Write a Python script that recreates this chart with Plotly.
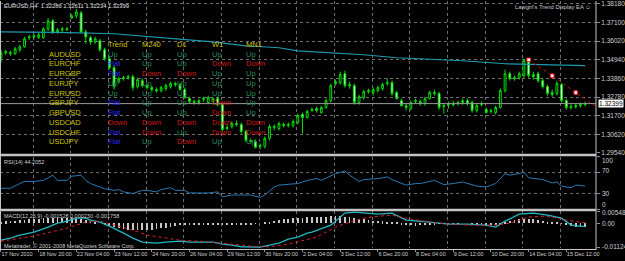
import plotly.graph_objects as go

# ---------------- data ----------------
bar_open = [
1.3506, 1.3535, 1.3529, 1.3529, 1.3552, 1.3569, 1.3622, 1.3627, 1.3622, 1.3622,
1.3673, 1.3720, 1.3656, 1.3668, 1.3668, 1.3737, 1.3749, 1.3766, 1.3656, 1.3622,
1.3598, 1.3604, 1.3552, 1.3500, 1.3448, 1.3367, 1.3385, 1.3390, 1.3396, 1.3338,
1.3373, 1.3344, 1.3333, 1.3321, 1.3315, 1.3327, 1.3338, 1.3356, 1.3350, 1.3321,
1.3269, 1.3252, 1.3246, 1.3263, 1.3246, 1.3252, 1.3269, 1.3234, 1.3095, 1.3107,
1.3124, 1.3119, 1.3078, 1.3026, 1.3020, 1.2992, 1.2992, 1.3038, 1.3101, 1.3095,
1.3119, 1.3113, 1.3113, 1.3130, 1.3176, 1.3159, 1.3205, 1.3211, 1.3188, 1.3217,
1.3257, 1.3356, 1.3361, 1.3413, 1.3350, 1.3344, 1.3246, 1.3275, 1.3309, 1.3304,
1.3315, 1.3327, 1.3356, 1.3361, 1.3304, 1.3257, 1.3228, 1.3211, 1.3252, 1.3252,
1.3240, 1.3269, 1.3298, 1.3298, 1.3223, 1.3234, 1.3240, 1.3240, 1.3246, 1.3257,
1.3246, 1.3200, 1.3234, 1.3205, 1.3194, 1.3188, 1.3217, 1.3315, 1.3413, 1.3390,
1.3390, 1.3402, 1.3489, 1.3408, 1.3413, 1.3373, 1.3338, 1.3304, 1.3298, 1.3350,
1.3257, 1.3217, 1.3223, 1.3228, 1.3234]
bar_high = [
1.3552, 1.3552, 1.3546, 1.3569, 1.3581, 1.3627, 1.3639, 1.3645, 1.3650, 1.3685,
1.3737, 1.3731, 1.3679, 1.3685, 1.3685, 1.3760, 1.3789, 1.3778, 1.3668, 1.3633,
1.3627, 1.3616, 1.3564, 1.3512, 1.3460, 1.3396, 1.3402, 1.3408, 1.3408, 1.3390,
1.3385, 1.3356, 1.3344, 1.3333, 1.3344, 1.3356, 1.3367, 1.3367, 1.3361, 1.3333,
1.3280, 1.3263, 1.3269, 1.3280, 1.3286, 1.3275, 1.3280, 1.3246, 1.3119, 1.3136,
1.3142, 1.3130, 1.3090, 1.3038, 1.3032, 1.3009, 1.3049, 1.3119, 1.3119, 1.3136,
1.3130, 1.3130, 1.3148, 1.3182, 1.3188, 1.3205, 1.3217, 1.3223, 1.3228, 1.3269,
1.3356, 1.3379, 1.3425, 1.3431, 1.3367, 1.3356, 1.3292, 1.3321, 1.3327, 1.3333,
1.3344, 1.3361, 1.3385, 1.3373, 1.3315, 1.3269, 1.3240, 1.3257, 1.3269, 1.3263,
1.3280, 1.3315, 1.3321, 1.3309, 1.3240, 1.3252, 1.3257, 1.3257, 1.3269, 1.3269,
1.3257, 1.3240, 1.3252, 1.3217, 1.3211, 1.3228, 1.3327, 1.3437, 1.3425, 1.3402,
1.3425, 1.3500, 1.3500, 1.3425, 1.3425, 1.3385, 1.3350, 1.3321, 1.3373, 1.3361,
1.3269, 1.3240, 1.3240, 1.3246, 1.3252]
bar_low = [
1.3477, 1.3523, 1.3517, 1.3523, 1.3541, 1.3564, 1.3610, 1.3616, 1.3616, 1.3616,
1.3662, 1.3645, 1.3645, 1.3656, 1.3662, 1.3731, 1.3737, 1.3650, 1.3587, 1.3581,
1.3587, 1.3541, 1.3489, 1.3437, 1.3321, 1.3356, 1.3373, 1.3379, 1.3315, 1.3327,
1.3333, 1.3321, 1.3309, 1.3304, 1.3304, 1.3315, 1.3327, 1.3338, 1.3315, 1.3269,
1.3240, 1.3234, 1.3234, 1.3252, 1.3240, 1.3240, 1.3223, 1.3078, 1.3084, 1.3095,
1.3107, 1.3067, 1.3015, 1.3009, 1.2980, 1.2974, 1.2980, 1.3026, 1.3084, 1.3084,
1.3101, 1.3101, 1.3101, 1.3119, 1.3067, 1.3153, 1.3194, 1.3188, 1.3182, 1.3211,
1.3246, 1.3344, 1.3350, 1.3333, 1.3327, 1.3234, 1.3234, 1.3263, 1.3298, 1.3286,
1.3304, 1.3315, 1.3344, 1.3286, 1.3263, 1.3223, 1.3200, 1.3200, 1.3240, 1.3228,
1.3228, 1.3263, 1.3286, 1.3205, 1.3182, 1.3211, 1.3223, 1.3228, 1.3234, 1.3228,
1.3188, 1.3188, 1.3223, 1.3182, 1.3182, 1.3176, 1.3211, 1.3304, 1.3373, 1.3373,
1.3379, 1.3390, 1.3390, 1.3379, 1.3361, 1.3327, 1.3286, 1.3280, 1.3286, 1.3246,
1.3205, 1.3205, 1.3211, 1.3217, 1.3223]
bar_close = [
1.3535, 1.3541, 1.3535, 1.3558, 1.3569, 1.3616, 1.3627, 1.3633, 1.3639, 1.3673,
1.3720, 1.3650, 1.3668, 1.3673, 1.3673, 1.3749, 1.3772, 1.3656, 1.3627, 1.3598,
1.3616, 1.3552, 1.3500, 1.3448, 1.3338, 1.3385, 1.3390, 1.3396, 1.3333, 1.3379,
1.3344, 1.3333, 1.3321, 1.3315, 1.3333, 1.3344, 1.3356, 1.3350, 1.3321, 1.3275,
1.3252, 1.3246, 1.3257, 1.3269, 1.3275, 1.3269, 1.3234, 1.3090, 1.3101, 1.3124,
1.3119, 1.3078, 1.3026, 1.3020, 1.2986, 1.2997, 1.3038, 1.3107, 1.3107, 1.3124,
1.3113, 1.3119, 1.3136, 1.3171, 1.3159, 1.3194, 1.3200, 1.3200, 1.3217, 1.3257,
1.3344, 1.3367, 1.3408, 1.3344, 1.3344, 1.3246, 1.3280, 1.3309, 1.3315, 1.3321,
1.3333, 1.3350, 1.3361, 1.3298, 1.3269, 1.3228, 1.3217, 1.3246, 1.3257, 1.3240,
1.3269, 1.3304, 1.3304, 1.3217, 1.3228, 1.3240, 1.3234, 1.3246, 1.3257, 1.3240,
1.3200, 1.3228, 1.3240, 1.3188, 1.3200, 1.3217, 1.3315, 1.3413, 1.3385, 1.3385,
1.3413, 1.3489, 1.3402, 1.3396, 1.3373, 1.3338, 1.3298, 1.3292, 1.3356, 1.3257,
1.3217, 1.3223, 1.3228, 1.3234, 1.32399]
n_bars = len(bar_close)
assert len(bar_open) == len(bar_high) == len(bar_low) == n_bars
bars = list(range(n_bars))

# long moving average (cyan)
ma_x = [0, 12, 24, 33, 45, 52, 59, 63, 70, 77, 84, 93, 98, 107, 124]
ma_v = [1.3656, 1.3653, 1.3645, 1.3625, 1.3598, 1.3575, 1.3564, 1.3546, 1.3535,
        1.3523, 1.3506, 1.3494, 1.3489, 1.3471, 1.3460]

# red trend line with points
tl_x = [112, 117, 122, 126.3]
tl_v = [1.3494, 1.3402, 1.3304, 1.3223]

# RSI(14)
rsi_x = [0,2,4,5,7,9,11,12,14,15,17,18,19,20,21,22,24,25,26,28,30,31,33,34,36,37,39,40,42,44,
         46,47,49,51,53,55,56,58,59,61,63,65,67,68,71,73,74,76,77,80,82,83,86,88,89,92,94,96,98,101,
         103,105,107,108,110,111,112,115,117,118,119,121,122,124]
rsi_v = [40,40,49,53,53,55,65,55,55,63,65,55,49,46,42,39,36,37.5,33,30,36,36,33,37.5,41,36,36,31,31,31,
         33,23.5,27,27,27,22.5,27,42.5,46,47.6,49,55,58.5,55,68,73,65,53,56.6,58.5,61.5,56.6,46,49,49,55,47,49,52,44,
         42.5,49,68,65,68,71,60,56.6,50,52,44,41,46,44.2052]

# MACD(12,26,9)
macd_x = [0,2,4,7,10,12,14,16,18,19,21,23,26,28,30,33,35,38,40,43,45,47,49,51,53,55,56,59,61,63,
          65,66,70,73,75,77,80,83,86,91,95,99,103,105,107,110,113,116,119,121,124]
macd_v = [-0.0079,-0.0069,-0.0055,-0.0041,-0.0017,0.0001,0.0011,0.0025,0.0025,0.0016,
          0.0006,-0.0013,-0.0046,-0.0069,-0.0088,-0.0093,-0.0088,-0.0084,-0.0088,-0.0088,
          -0.0088,-0.0098,-0.0102,-0.0110,-0.0110,-0.0112,-0.0107,-0.0093,-0.0074,-0.0065,
          -0.0046,-0.0041,-0.0008,0.0049,0.0053,0.0049,0.0044,0.0049,0.0016,0.0006,
          -0.0003,-0.0003,-0.0008,-0.0017,0.0011,0.0044,0.0049,0.0039,0.0025,-0.0008,-0.001528]
sig_x = [0,7,14,18,21,24,28,31,35,38,42,47,51,54,57,61,63,67,71,74,77,80,83,86,91,95,100,105,108,112,115,117,120,124]
sig_v = [-0.0084,-0.0060,-0.0022,0.0006,0.0011,-0.0008,-0.0032,-0.0055,-0.0069,-0.0079,
         -0.0084,-0.0093,-0.0102,-0.0110,-0.0110,-0.0098,-0.0088,-0.0065,-0.0017,0.0006,
         0.0025,0.0034,0.0039,0.0025,0.0006,-0.0003,-0.0008,-0.0008,0.0001,0.0030,
         0.0034,0.0030,0.0016,0.00023]
osma = [0.0006,0.0009,0.0011,0.0013,0.0015,0.0017,0.0019,0.0020,0.0022,0.0023,
        0.0024,0.0025,0.0025,0.0025,0.0024,0.0023,0.0022,0.0020,0.0017,0.0012,
        0.0006,0.0000,-0.0006,-0.0012,-0.0018,-0.0023,-0.0028,-0.0031,-0.0033,-0.0034,
        -0.0034,-0.0032,-0.0030,-0.0027,-0.0024,-0.0020,-0.0016,-0.0012,-0.0009,-0.0007,
        -0.0005,-0.0004,-0.0004,-0.0004,-0.0004,-0.0004,-0.0005,-0.0006,-0.0007,-0.0008,
        -0.0008,-0.0008,-0.0006,-0.0004,-0.0002,0.0000,0.0003,0.0007,0.0012,0.0016,
        0.0019,0.0022,0.0024,0.0026,0.0027,0.0028,0.0029,0.0030,0.0031,0.0032,
        0.0033,0.0034,0.0034,0.0032,0.0029,0.0026,0.0022,0.0019,0.0016,0.0013,
        0.0010,0.0009,0.0008,0.0007,0.0002,-0.0004,-0.0008,-0.0010,-0.0011,-0.0010,
        -0.0008,-0.0006,-0.0004,-0.0003,-0.0002,-0.0002,-0.0001,-0.0001,0.0000,0.0000,
        -0.0001,-0.0002,-0.0003,-0.0004,-0.0006,-0.0008,-0.0003,0.0005,0.0012,0.0016,
        0.0019,0.0020,0.0020,0.0018,0.0014,0.0010,0.0007,0.0004,0.0002,-0.0002,
        -0.0008,-0.0013,-0.0016,-0.0017,-0.001758]

price_ticks = [1.38180, 1.37100, 1.36020, 1.34940, 1.33860, 1.32780, 1.31700, 1.30620, 1.29540]
rsi_ticks = [100, 70, 30, 0]
macd_ticks = [0.00548, 0.0, -0.01124]
macd_tick_text = ["0.00548", "0.00", "-0.01124"]
date_bars = [0, 8, 16, 24, 32, 40, 48, 56, 64, 72, 80, 88, 96, 104, 112, 120]
date_labels = ["17 Nov 2010", "18 Nov 20:00", "22 Nov 04:00", "23 Nov 12:00", "24 Nov 20:00",
               "26 Nov 04:00", "29 Nov 12:00", "30 Nov 20:00", "2 Dec 04:00", "3 Dec 12:00",
               "6 Dec 20:00", "8 Dec 04:00", "9 Dec 12:00", "10 Dec 20:00", "14 Dec 04:00",
               "15 Dec 12:00"]

# trend display table
symbols = ["AUDUSD", "EURCHF", "EURGBP", "EURJPY", "EURUSD", "GBPJPY", "GBPUSD", "USDCAD", "USDCHF", "USDJPY"]
columns = ["Trend", "M240", "D1", "W1", "MN1"]
trend = ["Up", "Flat", "Flat", "Up", "Up", "Flat", "Flat", "Down", "Flat", "Flat"]
m240 = ["Up", "Up", "Down", "Up", "Up", "Up", "Up", "Down", "Down", "Up"]
d1 = ["Up", "Up", "Down", "Up", "Up", "Up", "Up", "Down", "Up", "Down"]
w1 = ["Up", "Down", "Up", "Up", "Up", "Down", "Down", "Down", "Down", "Up"]
mn1 = ["Up", "Down", "Up", "Up", "Up", "Up", "Up", "Down", "Down", "Up"]

# ---------------- layout helpers ----------------
W, H = 625, 261
ML, MR, MT, MB = 0, 22, 0, 11
PW = W - ML - MR
PH = H - MT - MB
def fy(py):
    return (PH - py) / PH
def fx(px):
    return px / PW

BG = "#000000"
GRID = "#6e6e6e"
FRAME = "#c4c4c4"
LBL = "#d0d0d0"
FONT = "Liberation Sans"
GREEN = "#00dc00"

fig = go.Figure()
fig.add_trace(go.Candlestick(
    x=bars, open=bar_open, high=bar_high, low=bar_low, close=bar_close,
    increasing=dict(line=dict(color=GREEN, width=1), fillcolor="#000000"),
    decreasing=dict(line=dict(color=GREEN, width=1), fillcolor="#ffffff"),
    xaxis="x", yaxis="y", hoverinfo="skip", showlegend=False))
fig.add_trace(go.Scatter(x=ma_x, y=ma_v, mode="lines", line=dict(color="#1d9bb0", width=1.1),
                         xaxis="x", yaxis="y", showlegend=False))
fig.add_trace(go.Scatter(x=tl_x, y=tl_v, mode="lines", line=dict(color="#d00000", width=1, dash="dot"),
                         xaxis="x", yaxis="y", showlegend=False))
fig.add_trace(go.Scatter(x=tl_x[:3], y=tl_v[:3], mode="markers",
                         marker=dict(symbol="square", size=3.5, color="#ffffff", line=dict(color="#ff2020", width=1)),
                         xaxis="x", yaxis="y", showlegend=False))
fig.add_trace(go.Scatter(x=rsi_x, y=rsi_v, mode="lines", line=dict(color="#2a78b4", width=1),
                         xaxis="x2", yaxis="y2", showlegend=False))
fig.add_trace(go.Bar(x=bars, y=osma, width=0.16, marker=dict(color="#c8c8c8", line=dict(width=0)),
                     xaxis="x3", yaxis="y3", showlegend=False))
fig.add_trace(go.Scatter(x=macd_x, y=macd_v, mode="lines", line=dict(color="#22b8c0", width=1.3),
                         xaxis="x3", yaxis="y3", showlegend=False))
fig.add_trace(go.Scatter(x=sig_x, y=sig_v, mode="lines", line=dict(color="#e02030", width=1, dash="dot"),
                         xaxis="x3", yaxis="y3", showlegend=False))

xrange = [-0.21, 126.3]
xcommon = dict(range=xrange, showgrid=False, zeroline=False, showline=False,
               minor=dict(tick0=6.8, dtick=8, showgrid=True, gridcolor=GRID, griddash="dot", gridwidth=1),
               fixedrange=True)
ycommon = dict(side="right", zeroline=False, showline=False, ticks="outside", ticklen=3,
               tickcolor="#909090", tickfont=dict(family=FONT, size=6.5, color=LBL), fixedrange=True,
               ticklabeloverflow="allow")

fig.update_layout(
    width=W, height=H, margin=dict(l=ML, r=MR, t=MT, b=MB),
    paper_bgcolor=BG, plot_bgcolor=BG, showlegend=False, bargap=0, boxgap=0.45,
    xaxis=dict(**xcommon, anchor="y", showticklabels=False, ticks="", rangeslider=dict(visible=False)),
    xaxis2=dict(**xcommon, anchor="y2", matches="x", showticklabels=False, ticks=""),
    xaxis3=dict(**xcommon, anchor="y3", matches="x", tickmode="array", tickvals=date_bars,
                ticktext=date_labels, ticks="outside", ticklen=3, tickcolor="#909090",
                ticklabelposition="outside right", tickangle=0,
                tickfont=dict(family=FONT, size=5.5, color=LBL)),
    yaxis=dict(**ycommon, domain=[fy(153), 1.0], range=[1.29510, 1.38353],
               showgrid=True, gridcolor=GRID, griddash="dot", gridwidth=1,
               tickmode="array", tickvals=price_ticks, ticktext=["%.5f" % v for v in price_ticks]),
    yaxis2=dict(**ycommon, domain=[fy(209), fy(156.5)], range=[0, 100], showgrid=False,
                tickmode="array", tickvals=rsi_ticks, showticklabels=False),
    yaxis3=dict(**ycommon, domain=[fy(248), fy(211)], range=[-0.0116, 0.0058], showgrid=False,
                tickmode="array", tickvals=macd_ticks, showticklabels=False),
)

shapes = []
for lvl in [30, 70]:
    shapes.append(dict(type="line", xref="paper", x0=0, x1=1, yref="y2", y0=lvl, y1=lvl,
                       line=dict(color=GRID, width=1, dash="dot"), layer="below"))
# bid line
shapes.append(dict(type="line", xref="paper", x0=0, x1=1, yref="y", y0=bar_close[-1], y1=bar_close[-1],
                   line=dict(color="#9a9a9a", width=1)))
# pane separators and frame
for py, w in [(154.5, 2.5), (209.8, 2.5), (249.5, 1)]:
    shapes.append(dict(type="line", xref="paper", x0=0, x1=1, yref="paper", y0=fy(py), y1=fy(py),
                       line=dict(color=FRAME, width=w)))
shapes.append(dict(type="line", xref="paper", x0=fx(0.5), x1=fx(0.5), yref="paper", y0=fy(250), y1=1,
                   line=dict(color=FRAME, width=1)))
shapes.append(dict(type="line", xref="paper", x0=1, x1=1, yref="paper", y0=fy(250), y1=1,
                   line=dict(color=FRAME, width=1)))
fig.update_layout(shapes=shapes)

ann = []
def text(px, py, s, color, size, anchor="left"):
    ann.append(dict(x=fx(px), y=fy(py), xref="paper", yref="paper", text=s, showarrow=False,
                    xanchor=anchor, yanchor="middle", font=dict(family=FONT, size=size, color=color)))

text(2, 5, "EURUSD,H4  1.32286 1.32611 1.32234 1.32399", "#e0e0e0", 5.8)
text(600, 6.5, "Lawgirl's Trend Display EA \u263a", "#c8c8c8", 5.8, anchor="right")
text(2, 161.5, "RSI(14) 44.2052", "#d0d0d0", 5.5)
text(2, 216, "MACD(12,26,9) -0.001528 0.000230 -0.001758", "#d0d0d0", 5.5)
text(2, 245.5, "Metatrader, \u00a9 2001-2008 MetaQuotes Software Corp.", "#d0d0d0", 5.5)

# indicator scale labels (placed where the platform draws them)
for v, py in zip(rsi_ticks, [160, 170, 193, 204]):
    text(PW + 4, py, str(v), LBL, 6.5)
for s, py in zip(macd_tick_text, [212, 223.3, 246.5]):
    text(PW + 4, py, s, LBL, 6.5)

YEL = "#cfc000"
COL = {"Up": "#2a8a5a", "Down": "#d01818", "Flat": "#2a2af0"}
col_x = [107, 142, 177, 212, 247]
for cx, name in zip(col_x, columns):
    text(cx, 44, name, YEL, 7.5)
for k, s in enumerate(symbols):
    ry = 53.3 + 9.8 * k
    text(48, ry, s, YEL, 7.5)
    for cx, vals in zip(col_x, [trend, m240, d1, w1, mn1]):
        text(cx, ry, vals[k], COL[vals[k]], 7.5)

# current price box on the price scale
ann.append(dict(x=1, y=bar_close[-1], xref="paper", yref="y", text="%.5f" % bar_close[-1],
                showarrow=False, xanchor="left", yanchor="middle", xshift=2,
                bgcolor="#ffffff", borderpad=0, font=dict(family=FONT, size=6.5, color="#000000")))
fig.update_layout(annotations=ann)

fig.write_html("out.html")
